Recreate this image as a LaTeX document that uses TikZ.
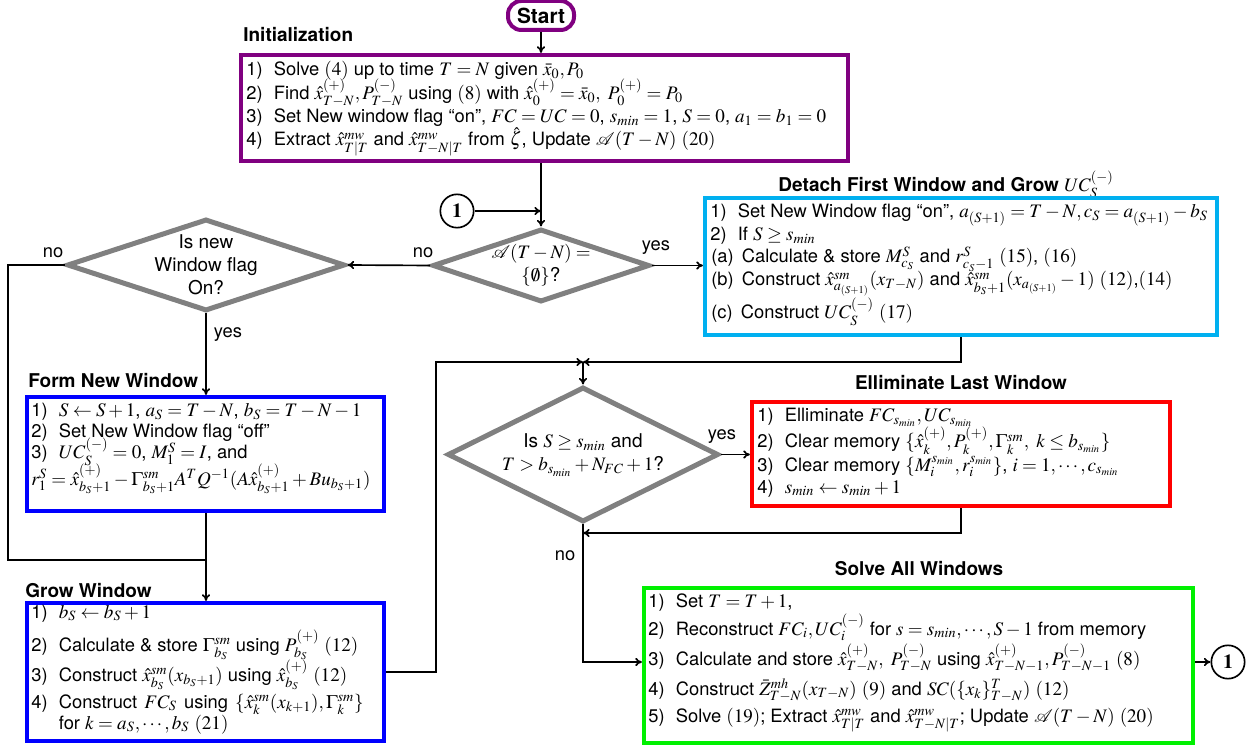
\documentclass[tikz,border=0pt]{standalone}
\usepackage{mathptmx}
\usepackage{mathrsfs}
\usepackage[no-math]{fontspec}
\setmainfont{TeX Gyre Heros}
\DeclareMathSizes{11}{11.45}{8.5}{6.3}
\usetikzlibrary{shapes.geometric,arrows.meta}
\definecolor{cpurple}{RGB}{128,0,128}
\definecolor{ccyan}{RGB}{0,176,240}
\definecolor{cred}{RGB}{255,0,0}
\definecolor{cblue}{RGB}{0,0,255}
\definecolor{cgreen}{RGB}{0,240,0}
\definecolor{cgray}{RGB}{128,128,128}
\newcommand\lbx[1]{\makebox[1.5em][l]{#1}}
\newcommand\bline[4]{\node[tline] (#1) at (#2,#3) {#4};}
\begin{document}
\begin{tikzpicture}[x=0.6pt,y=-0.6pt,
  >={To[length=4pt,width=5pt]},
  bx/.style={draw=#1, line width=2.5pt, inner sep=0pt},
  tline/.style={anchor=base west, inner sep=0pt, font=\fontsize{11}{13}\selectfont},
  ttl/.style={inner sep=0pt, font=\fontsize{11.4}{13}\selectfont\bfseries},
  lab/.style={inner sep=0pt, font=\fontsize{11}{13}\selectfont},
  dia/.style={draw=cgray, line width=3pt, diamond, inner sep=0pt},
  dtext/.style={inner sep=0pt, align=center, font=\fontsize{11.4}{13.8}\selectfont},
  circ/.style={draw, circle, line width=1pt, minimum size=20pt, inner sep=0pt, font=\fontsize{12}{14}\selectfont},
  conn/.style={line width=1pt},
  arr/.style={line width=1pt, ->}]
\useasboundingbox (0,0) rectangle (1259,746);

% Start
\node[draw=cpurple, line width=2.4pt, rounded corners=8pt, minimum width=39.6pt, minimum height=17.4pt, inner sep=0pt, font=\fontsize{12.5}{14}\selectfont\bfseries] (start) at (541,15.5) {Start};

% Titles
\node[ttl, anchor=base west] (tInit) at (243,42) {Initialization};
\node[ttl, anchor=base] (tDet) at (946,192) {Detach First Window and Grow $UC^{(-)}_S$};
\node[ttl, anchor=base west] (tForm) at (28,388) {Form New Window};
\node[ttl, anchor=base west] (tGrow) at (25,597) {Grow Window};
\node[ttl, anchor=base] (tElim) at (961,390) {Elliminate Last Window};
\node[ttl, anchor=base] (tSolve) at (919,575) {Solve All Windows};

% Boxes
\node[bx=cpurple, minimum width=364.2pt, minimum height=63.6pt] (init) at (544.5,108) {};
\node[bx=ccyan, minimum width=307.2pt, minimum height=82.2pt] (detach) at (961,266.5) {};
\node[bx=cblue, minimum width=214.2pt, minimum height=68.4pt] (form) at (205.5,454) {};
\node[bx=cblue, minimum width=214.2pt, minimum height=82.8pt] (grow) at (205.5,672) {};
\node[bx=cred, minimum width=250.8pt, minimum height=62.4pt] (red) at (961,454) {};
\node[bx=cgreen, minimum width=329.4pt, minimum height=93pt] (green) at (918.5,665.5) {};

% Init text
\bline{i1}{246}{76}{\lbx{1)}Solve $(4)$ up to time $T=N$ given $\bar{x}_0,P_0$}
\bline{i2}{246}{100}{\lbx{2)}Find $\hat{x}^{(+)}_{T-N},P^{(-)}_{T-N}$ using $(8)$ with $\hat{x}^{(+)}_0=\bar{x}_0,\ P^{(+)}_0=P_0$}
\bline{i3}{246}{123}{\lbx{3)}Set New window flag “on”, $FC=UC=0$, $s_{min}=1$, $S=0$, $a_1=b_1=0$}
\bline{i4}{246}{146}{\lbx{4)}Extract $\hat{x}^{mw}_{T|T}$ and $\hat{x}^{mw}_{T-N|T}$ from $\hat{\zeta}$, Update $\mathscr{A}(T-N)$ $(20)$}

% Detach text
\bline{e1}{710}{218}{\lbx{1)}Set New Window flag “on”, $a_{(S+1)}=T-N, c_S=a_{(S+1)}-b_S$}
\bline{e2}{710}{241}{\lbx{2)}If $S\geq s_{min}$}
\bline{e3}{711}{263}{(a)\hspace{0.45em}Calculate \& store $M^S_{c_S}$ and $r^S_{c_S-1}$ $(15)$, $(16)$}
\bline{e4}{711}{286}{(b)\hspace{0.45em}Construct $\hat{x}^{sm}_{a_{(S+1)}}(x_{T-N})$ and $\hat{x}^{sm}_{b_S+1}(x_{a_{(S+1)}}-1)$ $(12)$,$(14)$}
\bline{e5}{711}{319}{(c)\hspace{0.45em}Construct $UC^{(-)}_S$ $(17)$}

% Form text
\bline{f1}{31}{417}{\lbx{1)}$S\leftarrow S+1$, $a_S=T-N$, $b_S=T-N-1$}
\bline{f2}{31}{438}{\lbx{2)}Set New Window flag “off”}
\bline{f3}{31}{459}{\lbx{3)}$UC^{(-)}_S=0$, $M^S_1=I$, and}
\bline{f4}{31}{485}{$r^S_1=\hat{x}^{(+)}_{b_S+1}-\Gamma^{sm}_{b_S+1}A^TQ^{-1}(A\hat{x}^{(+)}_{b_S+1}+Bu_{b_S+1})$}

% Grow text
\bline{g1}{31}{618}{\lbx{1)}$b_S\leftarrow b_S+1$}
\bline{g2}{31}{651}{\lbx{2)}Calculate \& store $\Gamma^{sm}_{b_S}$ using $P^{(+)}_{b_S}$ $(12)$}
\bline{g3}{31}{681}{\lbx{3)}Construct $\hat{x}^{sm}_{b_S}(x_{b_S+1})$ using $\hat{x}^{(+)}_{b_S}$ $(12)$}
\bline{g4}{31}{708}{\lbx{4)}Construct $\,FC_S\,$ using $\,\{\hat{x}^{sm}_k(x_{k+1}),\Gamma^{sm}_k\}$}
\bline{g5}{31}{729}{\lbx{}for $k=a_S,\cdots,b_S$ $(21)$}

% Red text
\bline{r1}{757}{422}{\lbx{1)}Elliminate $FC_{s_{min}},UC_{s_{min}}$}
\bline{r2}{757}{448}{\lbx{2)}Clear memory $\{\hat{x}^{(+)}_k,P^{(+)}_k,\Gamma^{sm}_k,\ k\leq b_{s_{min}}\}$}
\bline{r3}{757}{471}{\lbx{3)}Clear memory $\{M^{s_{min}}_i,r^{s_{min}}_i\}$, $i=1,\cdots,c_{s_{min}}$}
\bline{r4}{757}{493}{\lbx{4)}$s_{min}\leftarrow s_{min}+1$}

% Green text
\bline{s1}{648}{607}{\lbx{1)}Set $T=T+1$,}
\bline{s2}{648}{635}{\lbx{2)}Reconstruct $FC_i,UC^{(-)}_i$ for $s=s_{min},\cdots,S-1$ from memory}
\bline{s3}{648}{665}{\lbx{3)}Calculate and store $\hat{x}^{(+)}_{T-N},\ P^{(-)}_{T-N}$ using $\hat{x}^{(+)}_{T-N-1},P^{(-)}_{T-N-1}$ $(8)$}
\bline{s4}{648}{695}{\lbx{4)}Construct $\bar{Z}^{mh}_{T-N}(x_{T-N})$ $(9)$ and $SC(\{x_k\}^T_{T-N})$ $(12)$}
\bline{s5}{648}{722}{\lbx{5)}Solve $(19)$; Extract $\hat{x}^{mw}_{T|T}$ and $\hat{x}^{mw}_{T-N|T}$; Update $\mathscr{A}(T-N)$ $(20)$}

% Diamonds
\node[dia, minimum width=130.2pt, minimum height=43.8pt] (d1) at (541,265.5) {};
\node[dtext] (d1t) at (541,265) {$\mathscr{A}(T-N)=$\\$\{\emptyset\}$?};
\node[dia, minimum width=166.8pt, minimum height=55.2pt] (d2) at (206,265) {};
\node[dtext] (d2t) at (206,265) {Is new\\Window flag\\On?};
\node[dia, minimum width=162.6pt, minimum height=81pt] (d3) at (583,454.5) {};
\node[dtext] (d3t) at (583,455) {Is $S\geq s_{min}$ and\\$T>b_{s_{min}}+N_{FC}+1$?};

% Connector circles
\node[circ] (c1) at (457,211) {$\mathbf{1}$};
\node[circ] (c2) at (1228,662) {$\mathbf{1}$};

% Labels
\node[lab] (n1) at (423,253) {no};
\node[lab] (y1) at (656,248) {yes};
\node[lab] (n2) at (53,253) {no};
\node[lab] (y2) at (228,335) {yes};
\node[lab] (y3) at (722,437) {yes};
\node[lab] (n3) at (565,556) {no};

% Coordinates for junctions
\coordinate (jL) at (8,560);
\coordinate (jG) at (206,560);
\coordinate (m1) at (583,362);
\coordinate (gL) at (436,362);
\coordinate (m2) at (583,533);

% Connectors
\draw[arr] (start.south) -- (start.south |- init.north);
\draw[arr] (init.south -| d1.north) -- (d1.north);
\draw[arr] (c1.east) -- (c1.east -| d1.north);
\draw[arr] (d1.east) -- (d1.east -| detach.west);
\draw[arr] (d1.west) -- (d2.east);
\draw[conn] (d2.west) -| (jL) -- (jG);
\draw[arr] (d2.south) -- (form.north -| d2.south);
\draw[arr] (form.south -| d2.south) -- (grow.north -| d2.south);
\draw[arr] (grow.east) -| (gL) -- (m1);
\draw[arr] (detach.south) |- (m1);
\draw[arr] (m1) -- (d3.north);
\draw[arr] (d3.east) -- (d3.east -| red.west);
\draw[arr] (red.south) |- (m2);
\draw[arr] (d3.south) |- ([yshift=2.1pt]green.west);
\draw[arr] ([yshift=2.1pt]green.east) -- (c2.west);
\end{tikzpicture}
\end{document}
